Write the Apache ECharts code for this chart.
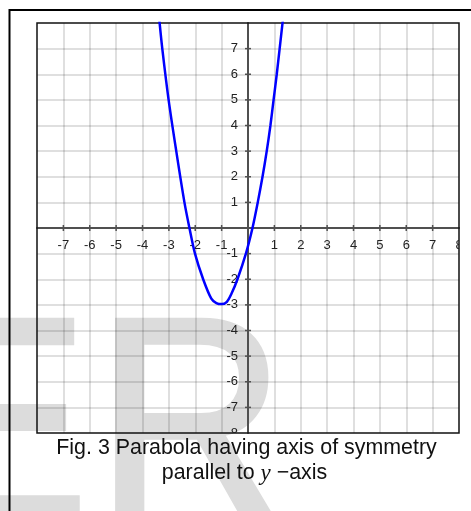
<!DOCTYPE html>
<html>
<head>
<meta charset="utf-8">
<style>
  html, body { margin: 0; padding: 0; background: #ffffff; }
  #chart { width: 471px; height: 511px; }
</style>
<script src="https://cdn.jsdelivr.net/npm/echarts@6/dist/echarts.min.js"></script>
</head>
<body>
<div id="chart"></div>
<script>
// Axis range and tick labels
const xRange = [-8, 8];
const yRange = [-8, 8];
const tickValues = [-7, -6, -5, -4, -3, -2, -1, 1, 2, 3, 4, 5, 6, 7];
const xLabelValues = [-7, -6, -5, -4, -3, -2, -1, 1, 2, 3, 4, 5, 6, 7, 8];   // 8 is cut off by the plot box
const yLabelValues = [-8, -7, -6, -5, -4, -3, -2, -1, 1, 2, 3, 4, 5, 6, 7];  // -8 is cut off by the plot box

// Parabola with vertex near (-1, -3), sampled points
const curveX = [-3.36, -3.25, -3.01, -2.72, -2.41, -2.22, -2.01, -1.70, -1.39, -1.20, -1.00, -0.80, -0.62, -0.40, -0.08, 0.17, 0.37, 0.55, 0.71, 0.85, 0.97, 1.09, 1.20, 1.32];
const curveY = [8.1, 7, 5, 3, 1, 0, -1, -2, -2.76, -2.93, -2.97, -2.88, -2.55, -2, -1, 0, 1, 2, 3, 4, 5, 6, 7, 8.1];

const captionLine1 = 'Fig. 3 Parabola having axis of symmetry';
const captionLine2 = 'parallel to {i|y} \u2212axis';

const FONT = '"Liberation Sans", Arial, sans-serif';
const LABEL_COLOR = '#222222';
const GRID_COLOR = 'rgba(0,0,0,0.17)';
const AXIS_COLOR = '#505050';

const chart = echarts.init(document.getElementById('chart'), null, { renderer: 'canvas' });

// label records: [value, axisIndex] where 0 = x axis, 1 = y axis
const labelData = xLabelValues.map(v => [v, 0]).concat(yLabelValues.map(v => [v, 1]));

const markStyle = {
  font: '276px "Liberation Sans", Arial, sans-serif',
  fill: '#dcdcdc', stroke: '#dcdcdc', lineWidth: 5, verticalAlign: 'top'
};

const option = {
  animation: false,
  backgroundColor: '#ffffff',
  grid: {
    left: 37, top: 23, width: 422, height: 410,
    show: true, borderColor: '#111111', borderWidth: 1.5, backgroundColor: 'transparent',
    z: 3
  },
  xAxis: {
    type: 'value', min: xRange[0], max: xRange[1], interval: 1,
    axisLine: { onZero: true, lineStyle: { color: AXIS_COLOR, width: 2 } },
    axisTick: { show: false },
    axisLabel: { show: false },
    splitLine: { show: true, showMinLine: false, showMaxLine: false, lineStyle: { color: GRID_COLOR, width: 1.5 } }
  },
  yAxis: {
    type: 'value', min: yRange[0], max: yRange[1], interval: 1,
    axisLine: { onZero: true, lineStyle: { color: AXIS_COLOR, width: 2 } },
    axisTick: { show: false },
    axisLabel: { show: false },
    splitLine: { show: true, showMinLine: false, showMaxLine: false, lineStyle: { color: GRID_COLOR, width: 1.5 } }
  },
  graphic: [
    // faint background lettering
    {
      type: 'text', z: -10, silent: true,
      scaleY: 1.05, originX: 0, originY: 315,
      style: Object.assign({ text: 'E', x: -95, y: 296 }, markStyle)
    },
    {
      type: 'text', z: -10, silent: true,
      scaleX: 0.95, scaleY: 1.05, originX: 115, originY: 315,
      style: Object.assign({ text: 'R', x: 95, y: 296 }, markStyle)
    },
    // outer frame
    {
      type: 'rect', z: 50, silent: true,
      shape: { x: 9.5, y: 10, width: 600, height: 600 },
      style: { fill: null, stroke: '#000000', lineWidth: 2 }
    },
    // caption
    {
      type: 'text', z: 60, silent: true,
      style: {
        text: captionLine1, x: 246.5, y: 438, align: 'center', verticalAlign: 'top',
        font: '21.4px "Liberation Sans", Arial, sans-serif', fill: '#111111'
      }
    },
    {
      type: 'text', z: 60, silent: true,
      style: {
        text: captionLine2, x: 244.5, y: 462, align: 'center', verticalAlign: 'top',
        font: '21.4px "Liberation Sans", Arial, sans-serif', fill: '#111111',
        rich: {
          i: { fontFamily: '"Liberation Serif", "DejaVu Serif", serif', fontStyle: 'italic', fontSize: 23, fill: '#111111' }
        }
      }
    }
  ],
  series: [
    {
      // tick marks crossing both axes
      type: 'custom', z: 5, silent: true,
      data: tickValues.map(v => [v]),
      renderItem: function (params, api) {
        const v = api.value(0);
        const px = api.coord([v, 0]);
        const py = api.coord([0, v]);
        const style = { stroke: AXIS_COLOR, lineWidth: 1.5 };
        return {
          type: 'group',
          children: [
            { type: 'line', shape: { x1: px[0], y1: px[1] - 3, x2: px[0], y2: px[1] + 3 }, style: style },
            { type: 'line', shape: { x1: py[0] - 3, y1: py[1], x2: py[0] + 3, y2: py[1] }, style: style }
          ]
        };
      }
    },
    {
      // numbers beside the axes, clipped to the plot box
      type: 'custom', z: 6, silent: true, clip: true,
      data: labelData,
      encode: { x: -1, y: -1 },
      renderItem: function (params, api) {
        const rec = labelData[params.dataIndex];
        const v = rec[0];
        const isX = rec[1] === 0;
        const p = isX ? api.coord([v, 0]) : api.coord([0, v]);
        return {
          type: 'text',
          style: {
            text: String(v),
            x: isX ? p[0] : p[0] - 10,
            y: isX ? p[1] + 11 : p[1],
            align: isX ? 'center' : 'right',
            verticalAlign: isX ? 'top' : 'middle',
            font: '13px "Liberation Sans", Arial, sans-serif',
            fill: LABEL_COLOR
          }
        };
      }
    },
    {
      type: 'line', z: 10,
      data: curveX.map((x, i) => [x, curveY[i]]),
      smooth: 0.3,
      showSymbol: false, clip: true,
      lineStyle: { color: '#0000ff', width: 2.5 }
    }
  ]
};

chart.setOption(option);
</script>
</body>
</html>
